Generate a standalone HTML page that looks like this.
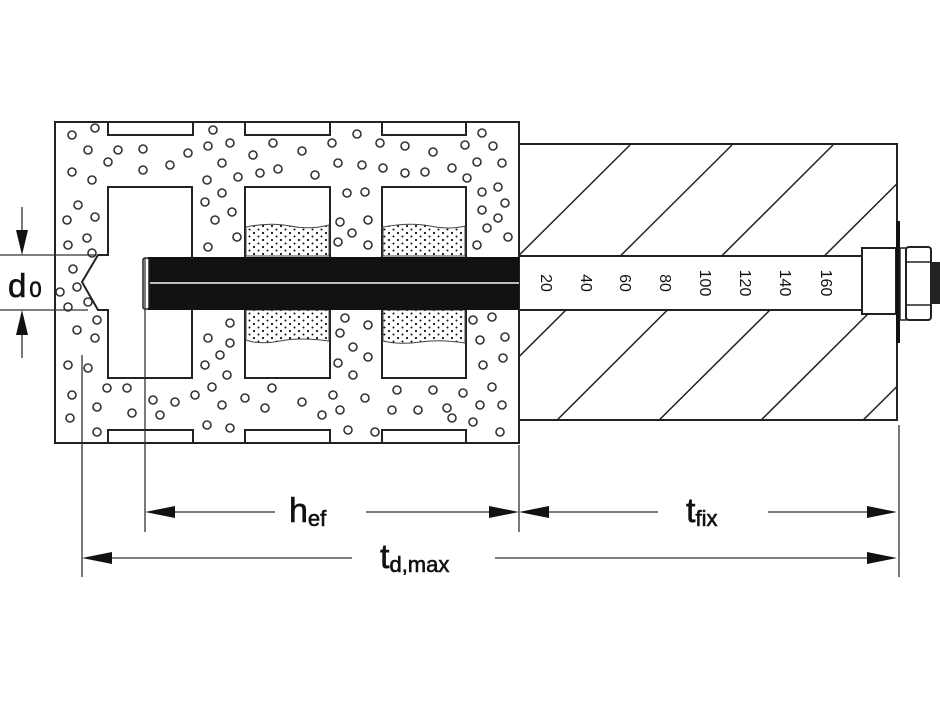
<!DOCTYPE html>
<html><head><meta charset="utf-8"><style>html,body{margin:0;padding:0;background:#fff}svg{display:block}</style></head><body>
<svg width="940" height="705" viewBox="0 0 940 705" xmlns="http://www.w3.org/2000/svg" font-family="Liberation Sans, sans-serif">
<defs>
<pattern id="dots" width="9" height="7" patternUnits="userSpaceOnUse"><circle cx="2" cy="2" r="1.1" fill="#111"/><circle cx="6.5" cy="5.5" r="1" fill="#111"/></pattern>
<clipPath id="fix"><rect x="519" y="144" width="378" height="276"/></clipPath>
</defs>
<rect x="55" y="122" width="464" height="321" fill="#fff" stroke="#222" stroke-width="2"/>
<g fill="#fff" stroke="#222" stroke-width="2">
<rect x="108" y="122" width="85" height="13"/><rect x="245" y="122" width="85" height="13"/><rect x="382" y="122" width="84" height="13"/>
<rect x="108" y="430" width="85" height="13"/><rect x="245" y="430" width="85" height="13"/><rect x="382" y="430" width="84" height="13"/>
<path d="M108,187 H192 V378 H108 V310 H98 L82,282 L98,255 H108 Z"/>
<rect x="245" y="187" width="85" height="191"/>
<rect x="382" y="187" width="84" height="191"/>
</g>
<g fill="url(#dots)" stroke="#444" stroke-width="1">
<path d="M246,227 Q270,222 290,226 T329,225 V256 H246Z"/>
<path d="M246,310 H329 V341 Q300,337 280,341 T246,340Z"/>
<path d="M383,227 Q410,222 430,226 T465,226 V256 H383Z"/>
<path d="M383,310 H465 V343 Q440,339 420,342 T383,341Z"/>
</g>
<g fill="none" stroke="#333" stroke-width="1.6">
<circle cx="72" cy="135" r="4"/><circle cx="95" cy="128" r="4"/><circle cx="88" cy="150" r="4"/><circle cx="118" cy="150" r="4"/><circle cx="143" cy="149" r="4"/><circle cx="108" cy="162" r="4"/><circle cx="72" cy="172" r="4"/><circle cx="92" cy="180" r="4"/><circle cx="143" cy="170" r="4"/><circle cx="170" cy="165" r="4"/><circle cx="188" cy="153" r="4"/><circle cx="208" cy="146" r="4"/><circle cx="213" cy="130" r="4"/><circle cx="230" cy="143" r="4"/><circle cx="222" cy="163" r="4"/><circle cx="207" cy="180" r="4"/><circle cx="238" cy="177" r="4"/><circle cx="260" cy="173" r="4"/><circle cx="278" cy="169" r="4"/><circle cx="253" cy="155" r="4"/><circle cx="273" cy="143" r="4"/><circle cx="302" cy="151" r="4"/><circle cx="315" cy="175" r="4"/><circle cx="332" cy="143" r="4"/><circle cx="338" cy="163" r="4"/><circle cx="357" cy="134" r="4"/><circle cx="362" cy="165" r="4"/><circle cx="380" cy="143" r="4"/><circle cx="383" cy="168" r="4"/><circle cx="405" cy="146" r="4"/><circle cx="405" cy="173" r="4"/><circle cx="425" cy="172" r="4"/><circle cx="433" cy="152" r="4"/><circle cx="452" cy="168" r="4"/><circle cx="465" cy="145" r="4"/><circle cx="467" cy="178" r="4"/><circle cx="482" cy="133" r="4"/><circle cx="493" cy="146" r="4"/><circle cx="477" cy="162" r="4"/><circle cx="502" cy="163" r="4"/>
<circle cx="78" cy="205" r="4"/><circle cx="67" cy="220" r="4"/><circle cx="95" cy="217" r="4"/><circle cx="68" cy="245" r="4"/><circle cx="87" cy="238" r="4"/><circle cx="92" cy="253" r="4"/><circle cx="73" cy="269" r="4"/><circle cx="77" cy="287" r="4"/><circle cx="60" cy="292" r="4"/><circle cx="68" cy="307" r="4"/><circle cx="88" cy="302" r="4"/><circle cx="97" cy="320" r="4"/><circle cx="77" cy="330" r="4"/><circle cx="95" cy="338" r="4"/><circle cx="68" cy="365" r="4"/><circle cx="88" cy="368" r="4"/>
<circle cx="205" cy="202" r="4"/><circle cx="222" cy="193" r="4"/><circle cx="232" cy="212" r="4"/><circle cx="215" cy="220" r="4"/><circle cx="237" cy="237" r="4"/><circle cx="208" cy="247" r="4"/><circle cx="230" cy="323" r="4"/><circle cx="208" cy="338" r="4"/><circle cx="230" cy="343" r="4"/><circle cx="220" cy="355" r="4"/><circle cx="205" cy="365" r="4"/><circle cx="227" cy="375" r="4"/>
<circle cx="347" cy="193" r="4"/><circle cx="365" cy="192" r="4"/><circle cx="340" cy="222" r="4"/><circle cx="368" cy="220" r="4"/><circle cx="352" cy="233" r="4"/><circle cx="338" cy="242" r="4"/><circle cx="368" cy="245" r="4"/><circle cx="345" cy="318" r="4"/><circle cx="368" cy="325" r="4"/><circle cx="340" cy="333" r="4"/><circle cx="353" cy="347" r="4"/><circle cx="368" cy="357" r="4"/><circle cx="338" cy="363" r="4"/><circle cx="353" cy="375" r="4"/>
<circle cx="482" cy="192" r="4"/><circle cx="498" cy="187" r="4"/><circle cx="505" cy="203" r="4"/><circle cx="482" cy="210" r="4"/><circle cx="498" cy="218" r="4"/><circle cx="487" cy="228" r="4"/><circle cx="508" cy="237" r="4"/><circle cx="477" cy="245" r="4"/><circle cx="473" cy="320" r="4"/><circle cx="492" cy="317" r="4"/><circle cx="505" cy="337" r="4"/><circle cx="480" cy="340" r="4"/><circle cx="503" cy="358" r="4"/><circle cx="483" cy="365" r="4"/>
<circle cx="107" cy="388" r="4"/><circle cx="127" cy="388" r="4"/><circle cx="72" cy="395" r="4"/><circle cx="97" cy="407" r="4"/><circle cx="70" cy="418" r="4"/><circle cx="97" cy="432" r="4"/><circle cx="132" cy="413" r="4"/><circle cx="153" cy="400" r="4"/><circle cx="160" cy="415" r="4"/><circle cx="175" cy="402" r="4"/><circle cx="195" cy="395" r="4"/><circle cx="212" cy="387" r="4"/><circle cx="222" cy="405" r="4"/><circle cx="207" cy="425" r="4"/><circle cx="230" cy="428" r="4"/><circle cx="245" cy="398" r="4"/><circle cx="265" cy="408" r="4"/><circle cx="272" cy="388" r="4"/><circle cx="302" cy="402" r="4"/><circle cx="322" cy="415" r="4"/><circle cx="333" cy="395" r="4"/><circle cx="340" cy="410" r="4"/><circle cx="348" cy="430" r="4"/><circle cx="365" cy="398" r="4"/><circle cx="375" cy="432" r="4"/><circle cx="392" cy="410" r="4"/><circle cx="397" cy="390" r="4"/><circle cx="418" cy="410" r="4"/><circle cx="433" cy="390" r="4"/><circle cx="447" cy="408" r="4"/><circle cx="452" cy="418" r="4"/><circle cx="463" cy="393" r="4"/><circle cx="473" cy="422" r="4"/><circle cx="480" cy="405" r="4"/><circle cx="492" cy="387" r="4"/><circle cx="502" cy="405" r="4"/><circle cx="500" cy="432" r="4"/>
</g>
<rect x="519" y="144" width="378" height="276" fill="#fff" stroke="#222" stroke-width="2"/>
<g clip-path="url(#fix)" stroke="#222" stroke-width="1.5">
<line x1="318" y1="455" x2="630" y2="145"/><line x1="420" y1="455" x2="732" y2="145"/><line x1="522" y1="455" x2="833" y2="145"/><line x1="624" y1="455" x2="936" y2="145"/><line x1="726" y1="455" x2="1038" y2="145"/><line x1="828" y1="455" x2="1140" y2="145"/>
</g>
<rect x="519" y="256" width="378" height="54" fill="#fff" stroke="#222" stroke-width="2"/>
<g font-size="16" fill="#111">
<text transform="translate(541,283) rotate(90)" text-anchor="middle">20</text>
<text transform="translate(581,283) rotate(90)" text-anchor="middle">40</text>
<text transform="translate(620,283) rotate(90)" text-anchor="middle">60</text>
<text transform="translate(660,283) rotate(90)" text-anchor="middle">80</text>
<text transform="translate(700,283) rotate(90)" text-anchor="middle">100</text>
<text transform="translate(740,283) rotate(90)" text-anchor="middle">120</text>
<text transform="translate(780,283) rotate(90)" text-anchor="middle">140</text>
<text transform="translate(821,283) rotate(90)" text-anchor="middle">160</text>
</g>
<rect x="148" y="257" width="371" height="53" fill="#111"/>
<line x1="150" y1="283" x2="519" y2="283" stroke="#bbb" stroke-width="2"/>
<rect x="143" y="258" width="6" height="51" rx="2" fill="#fff" stroke="#222" stroke-width="1.5"/>
<rect x="862" y="248" width="34" height="66" fill="#fff" stroke="#222" stroke-width="2"/>
<rect x="896" y="221" width="4" height="122" fill="#111"/>
<rect x="900" y="248" width="6" height="72" fill="#fff" stroke="#222" stroke-width="1.5"/>
<rect x="906" y="247" width="25" height="73" rx="3" fill="#fff" stroke="#222" stroke-width="2"/>
<line x1="906" y1="262" x2="931" y2="262" stroke="#222" stroke-width="1.5"/>
<line x1="906" y1="305" x2="931" y2="305" stroke="#222" stroke-width="1.5"/>
<rect x="931" y="262" width="9" height="42" fill="#222"/>
<g stroke="#333" stroke-width="1.3" fill="none">
<line x1="0" y1="255" x2="95" y2="255"/><line x1="0" y1="310" x2="88" y2="310"/>
<line x1="22" y1="207" x2="22" y2="240"/><line x1="22" y1="325" x2="22" y2="358"/>
<line x1="82" y1="355" x2="82" y2="577"/><line x1="145" y1="258" x2="145" y2="532"/>
<line x1="519" y1="445" x2="519" y2="532"/><line x1="899" y1="425" x2="899" y2="577"/>
<line x1="160" y1="512" x2="275" y2="512"/><line x1="366" y1="512" x2="505" y2="512"/>
<line x1="533" y1="512" x2="658" y2="512"/><line x1="768" y1="512" x2="885" y2="512"/>
<line x1="96" y1="558" x2="352" y2="558"/><line x1="495" y1="558" x2="885" y2="558"/>
</g>
<g fill="#111">
<polygon points="16,230 28,230 22,255"/><polygon points="16,335 28,335 22,310"/>
<polygon points="145,512 175,506 175,518"/><polygon points="519,512 489,506 489,518"/>
<polygon points="519,512 549,506 549,518"/><polygon points="897,512 867,506 867,518"/>
<polygon points="82,558 112,552 112,564"/><polygon points="897,558 867,552 867,564"/>
</g>
<g fill="#111" stroke="#111" stroke-width="0.6">
<text x="8" y="297" font-size="33">d<tspan font-size="22" dx="3">0</tspan></text>
<text x="289" y="522" font-size="34">h<tspan font-size="22" dy="4">ef</tspan></text>
<text x="686" y="522" font-size="34">t<tspan font-size="22" dy="4">fix</tspan></text>
<text x="380" y="568" font-size="34">t<tspan font-size="22" dy="4">d,max</tspan></text>
</g>
</svg>
</body></html>
